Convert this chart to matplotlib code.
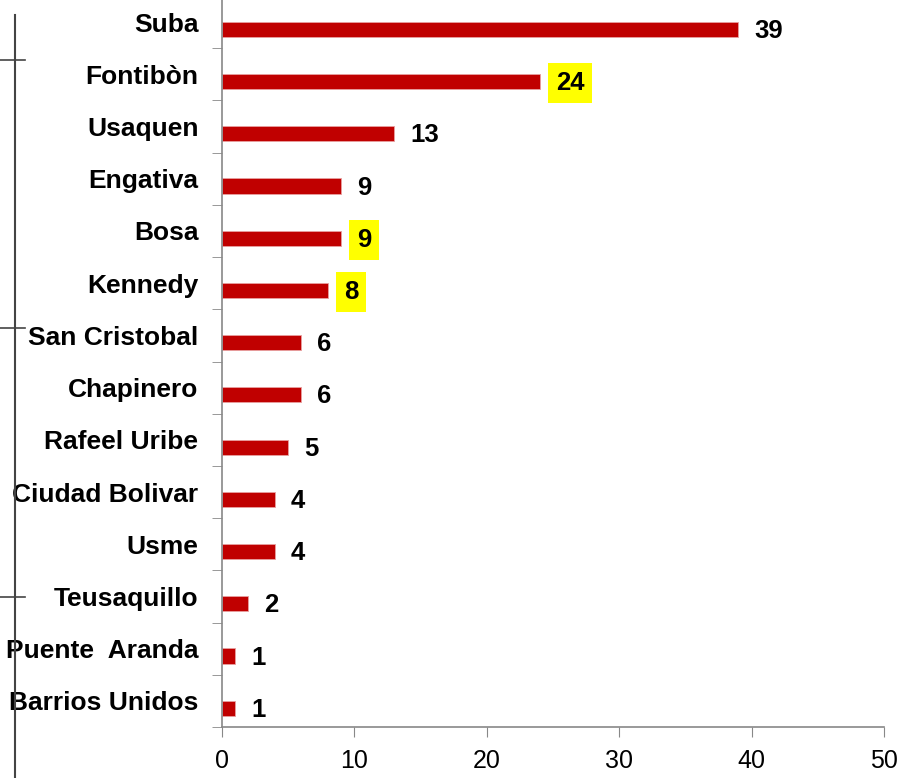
import matplotlib
matplotlib.use("Agg")
import matplotlib.pyplot as plt
from matplotlib.lines import Line2D

localidades = ["Suba", "Fontibòn", "Usaquen", "Engativa", "Bosa", "Kennedy",
               "San Cristobal", "Chapinero", "Rafeel Uribe", "Ciudad Bolivar",
               "Usme", "Teusaquillo", "Puente  Aranda", "Barrios Unidos"]
casos = [39, 24, 13, 9, 9, 8, 6, 6, 5, 4, 4, 2, 1, 1]
resaltados = ["Fontibòn", "Bosa", "Kennedy"]
x_ticks = [0, 10, 20, 30, 40, 50]

plt.rcParams['font.family'] = ['Liberation Sans', 'DejaVu Sans']

fig = plt.figure(figsize=(9.03, 7.78), dpi=100)
ax = fig.add_axes([222 / 903, 51 / 778, 662 / 903, 731 / 778])

n = len(localidades)
pos = [n - 1 - i for i in range(n)]
offset = 0.14
ax.barh([p - offset for p in pos], casos, height=0.29, color="#c00000",
        edgecolor="#e8a0a0", linewidth=0.6)

for p, v, name in zip(pos, casos, localidades):
    box = dict(boxstyle="square,pad=0.3", fc="#ffff00", ec="none") if name in resaltados else None
    ax.text(v + 1.2, p - offset - 0.03, str(v), ha="left", va="center",
            fontsize=18.5, fontweight="bold", bbox=box)

ax.set_xlim(0, 50)
ax.set_ylim(-0.5, n - 0.5)
ax.set_xticks(x_ticks)
ax.set_xticklabels([str(t) for t in x_ticks], fontsize=18)
ax.set_yticks(pos)
ax.set_yticklabels(localidades, fontsize=19, fontweight="bold")
ax.set_yticks([p + 0.5 for p in range(n - 1)] + [-0.5], minor=True)
ax.tick_params(axis="y", which="major", length=0, pad=17)
ax.tick_params(axis="y", which="minor", length=7, color="#888888", direction="out")
ax.tick_params(axis="x", length=7, color="#888888", pad=9)
for side in ("top", "right"):
    ax.spines[side].set_visible(False)
for side in ("left", "bottom"):
    ax.spines[side].set_color("#888888")
    ax.spines[side].set_linewidth(1.2)

# decorative bracket at the left margin
W, H = 903, 778
fig.add_artist(Line2D([15 / W, 15 / W], [0, 1 - 15 / H], color="#444444", lw=1.5))
for yy in (60, 328, 597):
    fig.add_artist(Line2D([0, 25 / W], [1 - yy / H, 1 - yy / H], color="#444444", lw=1.2))

fig.savefig("out.png", dpi=100)
